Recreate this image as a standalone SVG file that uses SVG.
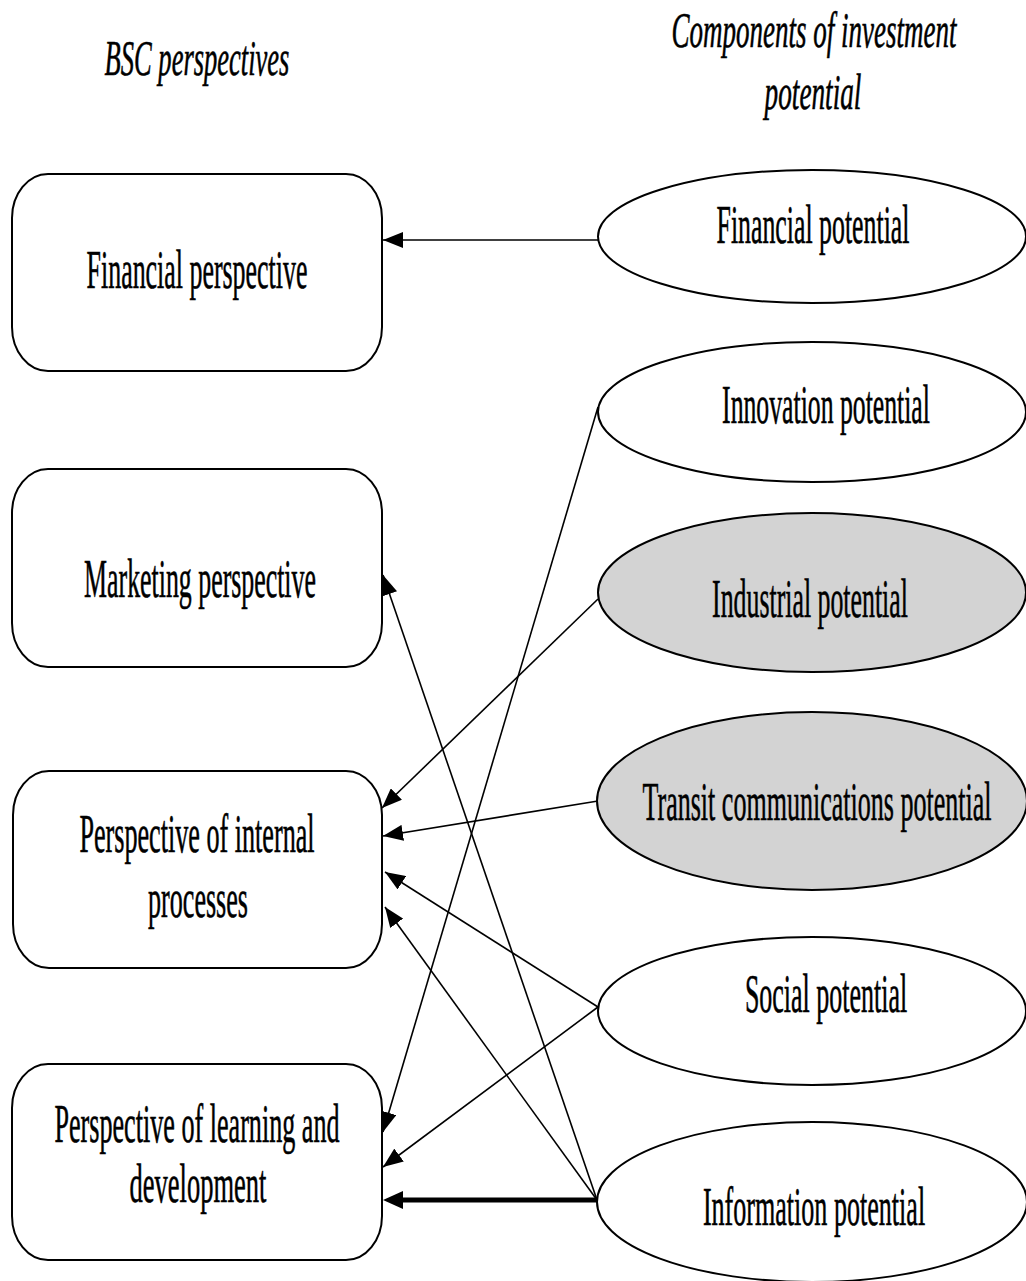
<svg xmlns="http://www.w3.org/2000/svg" width="1026" height="1281" viewBox="0 0 1026 1281">
<style>
  .box { fill: #ffffff; stroke: #000; stroke-width: 2; }
  .ell { fill: #ffffff; stroke: #000; stroke-width: 2; }
  .ell.gray { fill: #d3d3d3; }
  .t { font-family: "Liberation Serif", "Times New Roman", serif; font-size: 55px; fill: #000; stroke: #000; stroke-width: 0.6; text-anchor: middle; }
  .h { font-family: "Liberation Serif", "Times New Roman", serif; font-size: 50px; font-style: italic; fill: #000; stroke: #000; stroke-width: 0.6; text-anchor: middle; }
  .c { stroke: #000; stroke-width: 1.6; fill: none; marker-end: url(#arr); }
  .c.thick { stroke-width: 5; marker-end: url(#arrT); }
</style>
<defs>
  <marker id="arr" markerUnits="userSpaceOnUse" markerWidth="20" markerHeight="16" viewBox="0 0 20 16" refX="20" refY="8" orient="auto">
    <path d="M0,0 L20,8 L0,16 z" fill="#000"/>
  </marker>
  <marker id="arrT" markerUnits="userSpaceOnUse" markerWidth="20" markerHeight="18" viewBox="0 0 20 18" refX="6" refY="9" orient="auto">
    <path d="M0,0 L20,9 L0,18 z" fill="#000"/>
  </marker>
</defs>
<rect width="1026" height="1281" fill="#ffffff"/>

<g id="headers">
  <text class="h" transform="translate(197,75) scale(0.55,1)" textLength="336" lengthAdjust="spacingAndGlyphs">BSC perspectives</text>
  <text class="h" transform="translate(814,47) scale(0.55,1)" textLength="518" lengthAdjust="spacingAndGlyphs">Components of investment</text>
  <text class="h" transform="translate(813,109) scale(0.55,1)" textLength="176" lengthAdjust="spacingAndGlyphs">potential</text>
</g>

<g id="connectors">
  <line class="c" x1="598" y1="240" x2="383" y2="240"/>
  <line class="c" x1="598" y1="407" x2="383" y2="1132"/>
  <line class="c" x1="598" y1="599" x2="382" y2="808"/>
  <line class="c" x1="598" y1="801" x2="383" y2="836"/>
  <line class="c" x1="598" y1="1007" x2="385" y2="872"/>
  <line class="c" x1="598" y1="1007" x2="383" y2="1167"/>
  <line class="c" x1="597" y1="1200" x2="383" y2="575"/>
  <line class="c" x1="597" y1="1200" x2="385" y2="907"/>
  <line class="c thick" x1="597" y1="1200" x2="397" y2="1200"/>
</g>

<g id="financial-perspective">
  <rect class="box" x="12" y="174" width="370" height="197" rx="36" ry="44"/>
  <text class="t" transform="translate(197,288) scale(0.48,1)" textLength="460" lengthAdjust="spacingAndGlyphs">Financial perspective</text>
</g>
<g id="marketing-perspective">
  <rect class="box" x="12" y="469" width="370" height="198" rx="36" ry="44"/>
  <text class="t" transform="translate(200,597) scale(0.48,1)" textLength="483" lengthAdjust="spacingAndGlyphs">Marketing perspective</text>
</g>
<g id="internal-perspective">
  <rect class="box" x="13" y="771" width="369" height="197" rx="36" ry="44"/>
  <text class="t" transform="translate(197,852) scale(0.48,1)" textLength="490" lengthAdjust="spacingAndGlyphs">Perspective of internal</text>
  <text class="t" transform="translate(198,917) scale(0.48,1)" textLength="208" lengthAdjust="spacingAndGlyphs">processes</text>
</g>
<g id="learning-perspective">
  <rect class="box" x="12" y="1064" width="370" height="196" rx="36" ry="44"/>
  <text class="t" transform="translate(197,1142) scale(0.48,1)" textLength="594" lengthAdjust="spacingAndGlyphs">Perspective of learning and</text>
  <text class="t" transform="translate(198,1202) scale(0.48,1)" textLength="285" lengthAdjust="spacingAndGlyphs">development</text>
</g>

<g id="financial-potential">
  <ellipse class="ell" cx="812" cy="236.5" rx="214" ry="66.5"/>
  <text class="t" transform="translate(813,243) scale(0.48,1)" textLength="402" lengthAdjust="spacingAndGlyphs">Financial potential</text>
</g>
<g id="innovation-potential">
  <ellipse class="ell" cx="812" cy="412" rx="214" ry="70"/>
  <text class="t" transform="translate(826,423) scale(0.48,1)" textLength="433" lengthAdjust="spacingAndGlyphs">Innovation potential</text>
</g>
<g id="industrial-potential">
  <ellipse class="ell gray" cx="812" cy="592.5" rx="214" ry="79.5"/>
  <text class="t" transform="translate(810,617) scale(0.48,1)" textLength="408" lengthAdjust="spacingAndGlyphs">Industrial potential</text>
</g>
<g id="transit-potential">
  <ellipse class="ell gray" cx="812" cy="801" rx="215" ry="89"/>
  <text class="t" transform="translate(817,820) scale(0.48,1)" textLength="727" lengthAdjust="spacingAndGlyphs">Transit communications potential</text>
</g>
<g id="social-potential">
  <ellipse class="ell" cx="812" cy="1011" rx="214" ry="74"/>
  <text class="t" transform="translate(826,1012) scale(0.48,1)" textLength="338" lengthAdjust="spacingAndGlyphs">Social potential</text>
</g>
<g id="information-potential">
  <ellipse class="ell" cx="812" cy="1202" rx="215" ry="80"/>
  <text class="t" transform="translate(814,1225) scale(0.48,1)" textLength="463" lengthAdjust="spacingAndGlyphs">Information potential</text>
</g>
</svg>
